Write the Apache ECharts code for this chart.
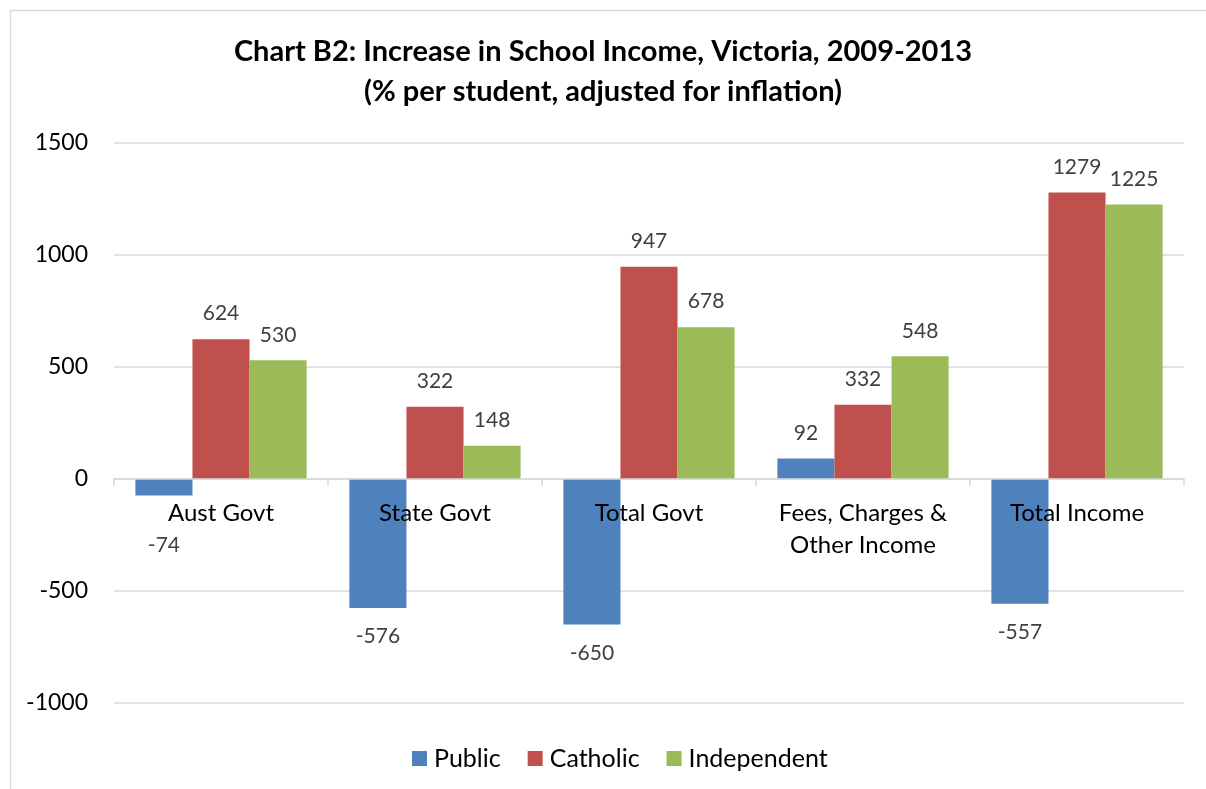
<!DOCTYPE html>
<html>
<head>
<meta charset="utf-8">
<script src="https://cdn.jsdelivr.net/npm/echarts@6/dist/echarts.min.js"></script>
<style>
  html, body { margin: 0; padding: 0; background: #fff; }
  #chart { width: 1206px; height: 789px; }
</style>
</head>
<body>
<div id="chart"></div>
<script>
// School income change per student, Victoria 2009-2013
const categories = ['Aust Govt', 'State Govt', 'Total Govt', 'Fees, Charges &\nOther Income', 'Total Income'];
const publicValues = [-74, -576, -650, 92, -557];
const catholicValues = [624, 322, 947, 332, 1279];
const independentValues = [530, 148, 678, 548, 1225];
const seriesNames = ['Public', 'Catholic', 'Independent'];
const colors = ['#4F81BD', '#C0504D', '#9BBB59'];

const FONT = 'Lato, "Open Sans", sans-serif';
const GRID_TOP = 143;
const GRID_BOTTOM = 86;
const Y_MIN = -1000;
const Y_MAX = 1500;

const chart = echarts.init(document.getElementById('chart'));

const valueLabel = {
  show: true,
  position: 'top',
  distance: 15,
  color: '#404040',
  fontSize: 21,
  fontFamily: FONT
};

// Negative public bars carry their label under the bar end;
// the small first one sits lower to clear the category name.
const publicData = publicValues.map((v, i) => {
  const item = { value: v };
  if (v < 0) {
    item.label = { position: 'bottom', distance: i === 0 ? 39 : 18 };
  }
  return item;
});

// Lift the category axis from the grid bottom to the zero line
const plotHeight = 789 - GRID_TOP - GRID_BOTTOM;
const zeroOffset = -plotHeight * (0 - Y_MIN) / (Y_MAX - Y_MIN);

chart.setOption({
  animation: false,
  color: colors,
  textStyle: { fontFamily: FONT },
  title: {
    text: 'Chart B2: Increase in School Income, Victoria, 2009-2013\n(% per student, adjusted for inflation)',
    left: 'center',
    top: 32,
    padding: 0,
    textStyle: {
      fontFamily: FONT,
      fontSize: 29,
      fontWeight: 'bold',
      color: '#000',
      lineHeight: 40
    }
  },
  legend: {
    bottom: 13,
    left: 407,
    itemWidth: 15,
    itemHeight: 15,
    itemGap: 27,
    icon: 'rect',
    textStyle: { fontSize: 25, color: '#000', fontFamily: FONT, padding: [0, 0, 0, 2] },
    data: seriesNames
  },
  grid: {
    left: 114,
    right: 22,
    top: GRID_TOP,
    bottom: GRID_BOTTOM,
    containLabel: false
  },
  xAxis: {
    type: 'category',
    data: categories,
    offset: zeroOffset,
    axisLine: { onZero: false, lineStyle: { color: '#d9d9d9', width: 1.5 } },
    axisTick: { show: true, length: 7, lineStyle: { color: '#d9d9d9', width: 1.5 } },
    axisLabel: {
      color: '#000',
      fontSize: 24,
      fontFamily: FONT,
      margin: 18,
      lineHeight: 32,
      interval: 0
    },
    z: 10
  },
  yAxis: {
    type: 'value',
    min: Y_MIN,
    max: Y_MAX,
    interval: 500,
    axisLine: { show: false },
    axisTick: { show: false },
    axisLabel: {
      color: '#000',
      fontSize: 23,
      fontFamily: FONT,
      margin: 26,
      formatter: v => String(v)
    },
    splitLine: { lineStyle: { color: '#d9d9d9', width: 1.5 } }
  },
  series: [
    {
      name: seriesNames[0],
      type: 'bar',
      data: publicData,
      barGap: '0%',
      barCategoryGap: '20%',
      label: valueLabel,
      z: 2
    },
    {
      name: seriesNames[1],
      type: 'bar',
      data: catholicValues,
      barGap: '0%',
      barCategoryGap: '20%',
      label: valueLabel,
      z: 2
    },
    {
      name: seriesNames[2],
      type: 'bar',
      data: independentValues,
      barGap: '0%',
      barCategoryGap: '20%',
      label: valueLabel,
      z: 2
    }
  ],
  graphic: [
    {
      type: 'polyline',
      shape: { points: [[10.5, 789], [10.5, 10.5], [1206, 10.5]] },
      style: { stroke: '#d9d9d9', lineWidth: 1.5, fill: null },
      silent: true
    }
  ]
});
</script>
</body>
</html>
